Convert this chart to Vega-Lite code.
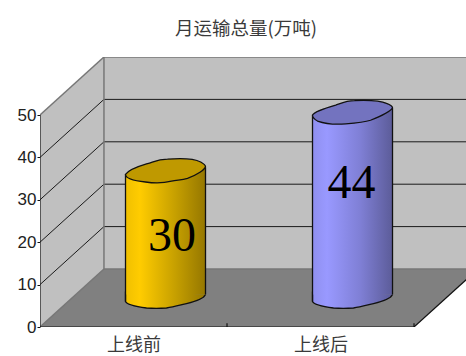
{
  "$schema": "https://vega.github.io/schema/vega-lite/v6.json",
  "width": 426,
  "height": 270,
  "autosize": "none",
  "padding": {"left": 40, "top": 57, "right": 0, "bottom": 29},
  "background": "white",
  "view": {"stroke": null},
  "title": {
    "text": "月运输总量(万吨)",
    "font": "Noto Sans CJK SC",
    "fontSize": 18.5,
    "fontWeight": "normal",
    "color": "#3a3a3a",
    "anchor": "middle",
    "dx": -7,
    "offset": 19
  },
  "datasets": {
    "bars": [
      {"stage": "上线前", "pos": 0.5, "tons": 30},
      {"stage": "上线后", "pos": 1.5, "tons": 44}
    ],
    "sideWall": [
      {"x": 0, "low": 0, "high": 50},
      {"x": 0.342, "low": 13.68, "high": 63.68}
    ],
    "backWall": [
      {"x": 0.342, "low": 13.68, "high": 63.68},
      {"x": 2.342, "low": 13.68, "high": 63.68}
    ],
    "floor": [
      {"y": 0, "x": 0, "x2": 2},
      {"y": 13.68, "x": 0.342, "x2": 2.342}
    ],
    "frame": [
      {"x": 0, "x2": 0.342, "y": 50, "y2": 63.68},
      {"x": 0, "x2": 0.342, "y": 0, "y2": 13.68},
      {"x": 0.342, "x2": 0.342, "y": 13.68, "y2": 63.68},
      {"x": 0.342, "x2": 2.342, "y": 63.68, "y2": 63.68},
      {"x": 0.342, "x2": 2.342, "y": 13.68, "y2": 13.68}
    ],
    "grid": [
      {"x": 0, "x2": 0.342, "y": 10, "y2": 23.68},
      {"x": 0, "x2": 0.342, "y": 20, "y2": 33.68},
      {"x": 0, "x2": 0.342, "y": 30, "y2": 43.68},
      {"x": 0, "x2": 0.342, "y": 40, "y2": 53.68},
      {"x": 0.342, "x2": 2.342, "y": 23.68, "y2": 23.68},
      {"x": 0.342, "x2": 2.342, "y": 33.68, "y2": 33.68},
      {"x": 0.342, "x2": 2.342, "y": 43.68, "y2": 43.68},
      {"x": 0.342, "x2": 2.342, "y": 53.68, "y2": 53.68}
    ],
    "axisLines": [
      {"x": 0, "x2": 0, "y": 0, "y2": 50},
      {"x": 0, "x2": 2, "y": 0, "y2": 0},
      {"x": 2, "x2": 2.342, "y": 0, "y2": 13.68},
      {"x": 1, "x2": 1, "y": 0, "y2": 0.9},
      {"x": 2, "x2": 2, "y": 0, "y2": 0.9}
    ]
  },
  "layer": [
    {
      "data": {"name": "sideWall"},
      "mark": {"type": "area", "color": "#C0C0C0", "clip": true},
      "encoding": {
        "x": {
          "field": "x",
          "type": "quantitative",
          "scale": {"domain": [0, 2.278], "nice": false, "zero": false, "padding": 0},
          "axis": {
            "values": [0.5, 1.5],
            "labelExpr": "datum.value < 1 ? '上线前' : '上线后'",
            "title": null,
            "grid": false,
            "domain": false,
            "ticks": false,
            "labelPadding": 9,
            "labelFont": "Noto Sans CJK SC",
            "labelFontSize": 18,
            "labelColor": "#3a3a3a"
          }
        },
        "y": {
          "field": "high",
          "type": "quantitative",
          "scale": {"domain": [0, 63.68], "nice": false, "zero": false, "padding": 0},
          "axis": {
            "values": [0, 10, 20, 30, 40, 50],
            "title": null,
            "grid": false,
            "domain": false,
            "tickSize": 3,
            "tickColor": "#111111",
            "labelPadding": 1,
            "labelFont": "Liberation Sans",
            "labelFontSize": 17,
            "labelColor": "#222222"
          }
        },
        "y2": {"field": "low"}
      }
    },
    {
      "data": {"name": "backWall"},
      "mark": {"type": "area", "color": "#C0C0C0", "clip": true},
      "encoding": {
        "x": {"field": "x", "type": "quantitative"},
        "y": {"field": "high", "type": "quantitative"},
        "y2": {"field": "low"}
      }
    },
    {
      "data": {"name": "floor"},
      "mark": {"type": "area", "color": "#808080", "orient": "horizontal", "clip": true},
      "encoding": {
        "y": {"field": "y", "type": "quantitative"},
        "x": {"field": "x", "type": "quantitative"},
        "x2": {"field": "x2"}
      }
    },
    {
      "data": {"name": "grid"},
      "mark": {"type": "rule", "color": "#1a1a1a", "strokeWidth": 1, "clip": true},
      "encoding": {
        "x": {"field": "x", "type": "quantitative"},
        "x2": {"field": "x2"},
        "y": {"field": "y", "type": "quantitative"},
        "y2": {"field": "y2"}
      }
    },
    {
      "data": {"name": "frame"},
      "mark": {"type": "rule", "color": "#777777", "strokeWidth": 1.5, "clip": true},
      "encoding": {
        "x": {"field": "x", "type": "quantitative"},
        "x2": {"field": "x2"},
        "y": {"field": "y", "type": "quantitative"},
        "y2": {"field": "y2"}
      }
    },
    {
      "data": {"name": "axisLines"},
      "mark": {"type": "rule", "color": "#111111", "strokeWidth": 1.2, "clip": true},
      "encoding": {
        "x": {"field": "x", "type": "quantitative"},
        "x2": {"field": "x2"},
        "y": {"field": "y", "type": "quantitative"},
        "y2": {"field": "y2"}
      }
    },
    {
      "data": {"name": "bars"},
      "mark": {
        "type": "point",
        "filled": true,
        "opacity": 1,
        "size": 6400,
        "xOffset": 32,
        "yOffset": -29,
        "stroke": "#111111",
        "strokeWidth": 1.3,
        "shape": "M-1,-.16 L-1,.085 C-.97,.16 -.75,.21 -.475,.25 C-.3,.265 -.1,.26 .025,.25 C.2,.22 .35,.18 .525,.14 C.7,.1 .95,.04 1,-.085"
      },
      "encoding": {
        "x": {"field": "pos", "type": "quantitative"},
        "y": {"datum": 0, "type": "quantitative"},
        "fill": {
          "condition": {
            "test": "datum.pos < 1",
            "value": {"gradient": "linear", "x1": 0, "x2": 1, "y1": 0, "y2": 0, "stops": [
              {"offset": 0, "color": "#F0C000"},
              {"offset": 0.18, "color": "#FFCC00"},
              {"offset": 0.6, "color": "#C9A200"},
              {"offset": 1, "color": "#957700"}
            ]}
          },
          "value": {"gradient": "linear", "x1": 0, "x2": 1, "y1": 0, "y2": 0, "stops": [
            {"offset": 0, "color": "#8F8FEF"},
            {"offset": 0.18, "color": "#9999FF"},
            {"offset": 0.6, "color": "#7F7FD5"},
            {"offset": 1, "color": "#5C5C99"}
          ]}
        }
      }
    },
    {
      "data": {"name": "bars"},
      "mark": {
        "type": "bar",
        "width": 80,
        "xOffset": 32,
        "yOffset": -25.5,
        "y2Offset": -32.5,
        "strokeWidth": 0
      },
      "encoding": {
        "x": {"field": "pos", "type": "quantitative"},
        "y": {"field": "tons", "type": "quantitative"},
        "y2": {"datum": 0},
        "fill": {
          "condition": {
            "test": "datum.pos < 1",
            "value": {"gradient": "linear", "x1": 0, "x2": 1, "y1": 0, "y2": 0, "stops": [
              {"offset": 0, "color": "#F0C000"},
              {"offset": 0.18, "color": "#FFCC00"},
              {"offset": 0.6, "color": "#C9A200"},
              {"offset": 1, "color": "#957700"}
            ]}
          },
          "value": {"gradient": "linear", "x1": 0, "x2": 1, "y1": 0, "y2": 0, "stops": [
            {"offset": 0, "color": "#8F8FEF"},
            {"offset": 0.18, "color": "#9999FF"},
            {"offset": 0.6, "color": "#7F7FD5"},
            {"offset": 1, "color": "#5C5C99"}
          ]}
        }
      }
    },
    {
      "data": {"name": "bars"},
      "mark": {
        "type": "point",
        "filled": true,
        "opacity": 1,
        "size": 6400,
        "xOffset": 32,
        "yOffset": -29,
        "strokeWidth": 0,
        "shape": "M-1,.0875 L1,-.0875 L1,.15 L-1,.15 Z"
      },
      "encoding": {
        "x": {"field": "pos", "type": "quantitative"},
        "y": {"field": "tons", "type": "quantitative"},
        "fill": {
          "condition": {
            "test": "datum.pos < 1",
            "value": {"gradient": "linear", "x1": 0, "x2": 1, "y1": 0, "y2": 0, "stops": [
              {"offset": 0, "color": "#F0C000"},
              {"offset": 0.18, "color": "#FFCC00"},
              {"offset": 0.6, "color": "#C9A200"},
              {"offset": 1, "color": "#957700"}
            ]}
          },
          "value": {"gradient": "linear", "x1": 0, "x2": 1, "y1": 0, "y2": 0, "stops": [
            {"offset": 0, "color": "#8F8FEF"},
            {"offset": 0.18, "color": "#9999FF"},
            {"offset": 0.6, "color": "#7F7FD5"},
            {"offset": 1, "color": "#5C5C99"}
          ]}
        }
      }
    },
    {
      "data": {"name": "bars"},
      "mark": {
        "type": "rule",
        "color": "#111111",
        "strokeWidth": 1.3,
        "xOffset": -8,
        "yOffset": -25.5,
        "y2Offset": -25.5
      },
      "encoding": {
        "x": {"field": "pos", "type": "quantitative"},
        "y": {"field": "tons", "type": "quantitative"},
        "y2": {"datum": 0}
      }
    },
    {
      "data": {"name": "bars"},
      "mark": {
        "type": "rule",
        "color": "#111111",
        "strokeWidth": 1.3,
        "xOffset": 72,
        "yOffset": -32.5,
        "y2Offset": -32.5
      },
      "encoding": {
        "x": {"field": "pos", "type": "quantitative"},
        "y": {"field": "tons", "type": "quantitative"},
        "y2": {"datum": 0}
      }
    },
    {
      "data": {"name": "bars"},
      "mark": {
        "type": "point",
        "filled": true,
        "opacity": 1,
        "size": 6400,
        "xOffset": 32,
        "yOffset": -29,
        "stroke": "#111111",
        "strokeWidth": 1.3
      },
      "encoding": {
        "x": {"field": "pos", "type": "quantitative"},
        "y": {"field": "tons", "type": "quantitative"},
        "shape": {
          "field": "stage",
          "type": "nominal",
          "legend": null,
          "sort": ["上线前", "上线后"],
          "scale": {"range": [
            "M-1,.09 C-.9,-.05 -.65,-.12 -.45,-.18 C-.3,-.22 -.2,-.29 .05,-.29 C.3,-.31 .7,-.31 .88,-.22 C.95,-.18 1,-.14 1,-.1 C.98,-.03 .8,.1 .55,.19 C.4,.23 .3,.23 .15,.26 C-.05,.31 -.3,.31 -.5,.28 C-.75,.25 -1,.2 -1,.09 Z",
            "M-1,.09 C-.95,0 -.7,-.08 -.42,-.16 C-.3,-.2 -.15,-.27 .05,-.27 C.3,-.28 .7,-.27 .85,-.2 C.93,-.17 1,-.13 1,-.09 C.95,0 .7,.12 .45,.22 C.3,.27 .1,.29 -.17,.31 C-.4,.33 -.7,.3 -.875,.24 C-.95,.2 -1,.15 -1,.09 Z"
          ]}
        },
        "fill": {
          "condition": {"test": "datum.pos < 1", "value": "#BF9900"},
          "value": "#7373BF"
        }
      }
    },
    {
      "data": {"name": "bars"},
      "transform": [{"filter": "datum.pos < 1"}],
      "mark": {
        "type": "text",
        "font": "Liberation Serif",
        "fontSize": 48,
        "color": "#000000",
        "xOffset": 38.5,
        "yOffset": 37,
        "baseline": "middle"
      },
      "encoding": {
        "x": {"field": "pos", "type": "quantitative"},
        "y": {"field": "tons", "type": "quantitative"},
        "text": {"field": "tons", "type": "quantitative"}
      }
    },
    {
      "data": {"name": "bars"},
      "transform": [{"filter": "datum.pos > 1"}],
      "mark": {
        "type": "text",
        "font": "Liberation Serif",
        "fontSize": 48,
        "color": "#000000",
        "xOffset": 31,
        "yOffset": 44,
        "baseline": "middle"
      },
      "encoding": {
        "x": {"field": "pos", "type": "quantitative"},
        "y": {"field": "tons", "type": "quantitative"},
        "text": {"field": "tons", "type": "quantitative"}
      }
    }
  ]
}
